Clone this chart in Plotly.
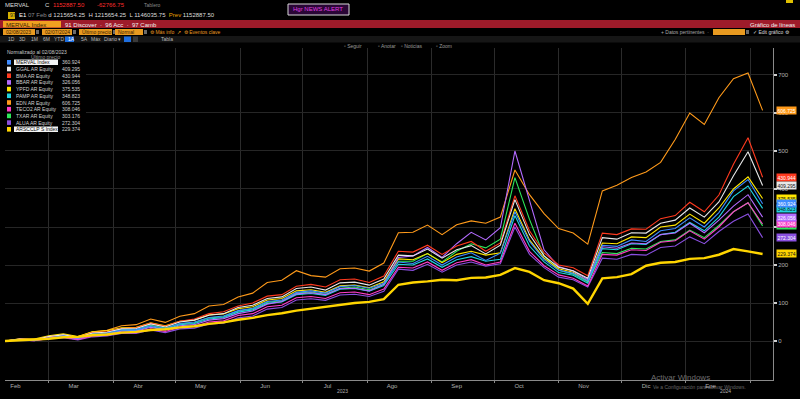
import plotly.graph_objects as go
import pandas as pd

# ---------------- data ----------------
dates = pd.date_range("2023-02-08", periods=53, freq="7D")

names = ["MERVAL Index", "GGAL AR Equity", "BMA AR Equity", "BBAR AR Equity",
         "YPFD AR Equity", "PAMP AR Equity", "EDN AR Equity", "TECO2 AR Equity",
         "TXAR AR Equity", "ALUA AR Equity", "ARSCCLP S Index"]
last_vals = ["360.924", "409.295", "430.944", "326.056", "375.535", "348.823",
             "606.725", "308.046", "303.176", "272.304", "229.374"]
colors = ["#3d8bff", "#e8e8e8", "#ff3a1f", "#b36bff", "#ffe600", "#21d4e0",
          "#ff9a1a", "#ff3cc8", "#2ee85a", "#8a4fe0", "#ffd500"]

merval = [0,4,2,9,14,8,18,21,29,30,40,33,46,50,62,66,80,86,104,108,128,132,126,143,146,139,152,
          208,204,223,200,221,232,212,231,340,262,214,186,178,158,252,249,266,262,290,296,324,300,338,395,425,361]
ggal = [0,5,3,12,16,9,21,23,32,33,45,37,50,55,68,72,88,94,112,116,138,142,134,153,155,147,163,
        226,224,242,218,240,251,229,252,372,280,224,194,185,165,272,268,285,284,310,318,350,326,366,435,498,409]
bma = [0,5,4,11,15,10,22,24,33,35,47,39,52,58,72,77,92,100,118,122,144,149,142,161,163,154,171,
       236,234,252,228,250,262,236,258,382,290,232,200,193,172,284,280,295,294,322,330,365,340,384,465,535,431]
bbar = [0,3,2,9,12,6,16,18,26,26,36,29,40,43,55,59,72,79,97,104,124,127,122,138,139,132,149,
        220,224,246,220,256,286,266,298,500,370,240,196,184,162,248,244,258,256,280,284,310,285,318,355,385,326]
ypfd = [0,6,5,14,19,12,24,27,35,36,48,40,52,55,69,71,85,90,108,112,132,135,128,145,147,140,156,
        216,214,230,206,228,236,226,232,348,266,218,190,181,158,258,256,274,272,300,305,334,310,350,400,432,375]
pamp = [0,4,3,9,13,7,17,19,27,28,38,30,43,46,58,62,76,82,99,103,122,125,120,136,138,131,146,
        202,200,216,194,214,222,210,215,330,250,208,180,173,152,243,240,256,254,280,286,312,290,326,380,408,349]
edn = [0,4,3,12,17,11,24,28,40,43,58,49,65,72,92,96,116,126,154,160,185,172,168,190,192,184,205,
       285,286,305,280,306,316,310,326,450,385,335,296,284,255,395,410,430,445,470,530,600,570,640,690,705,607]
teco2 = [0,3,1,7,10,4,13,15,22,22,32,25,36,38,50,53,67,72,90,94,114,117,112,127,129,122,137,
         194,192,208,186,206,214,200,208,310,236,198,174,165,145,228,226,240,238,260,264,290,268,300,340,364,308]
txar = [0,4,3,10,15,9,20,22,30,31,41,34,45,48,61,64,79,84,102,106,126,129,123,139,142,135,149,
        210,210,230,208,236,256,245,268,430,320,224,186,176,155,233,230,244,242,262,266,292,272,304,340,364,303]
alua = [0,3,1,6,9,3,11,13,20,20,29,22,32,34,45,47,61,66,84,88,108,111,107,121,123,117,131,
        189,186,202,181,200,208,197,203,300,228,193,168,161,142,218,215,228,226,246,250,274,256,288,315,334,272]
ars_idx = [0,2,4,6,10,11,15,17,22,24,29,31,36,39,45,49,56,61,68,73,80,85,90,94,100,103,110,
           148,154,157,161,160,166,167,174,192,182,160,152,138,98,165,168,176,198,206,208,216,218,227,242,236,229]

series = [merval, ggal, bma, bbar, ypfd, pamp, edn, teco2, txar, alua, ars_idx]

month_labels = ["Feb", "Mar", "Abr", "May", "Jun", "Jul", "Ago", "Sep", "Oct", "Nov", "Dic", "Ene"]
month_label_dates = [pd.Timestamp(d.year, d.month, 13) for d in pd.date_range("2023-02-01", periods=12, freq="MS")]
month_starts = list(pd.date_range("2023-03-01", periods=12, freq="MS"))
y_ticks = [0, 100, 200, 300, 400, 500, 600, 700]

# ---------------- figure ----------------
fig = go.Figure()
order = [6, 9, 8, 7, 5, 4, 3, 2, 1, 0, 10]
for k in order:
    fig.add_trace(go.Scatter(
        x=dates, y=series[k], mode="lines", name=names[k],
        line=dict(color=colors[k], width=2.4 if k == 10 else 1.1),
        showlegend=False, hoverinfo="skip"))

FONT = "Liberation Sans, Arial, sans-serif"
fig.update_layout(
    width=800, height=399,
    margin=dict(l=5, r=27, t=48, b=19),
    paper_bgcolor="black", plot_bgcolor="black",
    showlegend=False,
    font=dict(family=FONT, size=6, color="#bbbbbb"),
)
fig.update_xaxes(
    range=["2023-02-08", "2024-02-12"],
    tickvals=month_label_dates, ticktext=month_labels,
    showgrid=False, showline=True, linecolor="#8a8a8a", linewidth=1,
    ticks="", tickfont=dict(size=6, color="#b0b0b0"), zeroline=False,
    minor=dict(tickvals=month_starts, showgrid=True, gridcolor="#2b2b2b",
               ticks="outside", ticklen=2, tickcolor="#8a8a8a"),
)
fig.update_yaxes(
    side="right", range=[-102.6, 771], tickvals=y_ticks,
    showgrid=True, gridcolor="#262626", gridwidth=1,
    showline=True, linecolor="#8a8a8a", linewidth=1,
    ticks="outside", ticklen=3, tickwidth=2, tickcolor="#cfcfcf",
    tickfont=dict(size=6, color="#b0b0b0"), zeroline=False,
)

def PX(x):
    return (x - 5) / 768.0

def PY(y):
    return (380 - y) / 332.0

def text(x, y, s, color="#c8c8c8", size=6, anchor="left", bg=None):
    fig.add_annotation(x=PX(x), y=PY(y), xref="paper", yref="paper", text=s,
                       showarrow=False, xanchor=anchor, yanchor="middle",
                       font=dict(color=color, size=size, family=FONT),
                       bgcolor=bg, borderpad=0)

def rect(x0, y0, x1, y1, fill, line=None):
    fig.add_shape(type="rect", xref="paper", yref="paper",
                  x0=PX(x0), x1=PX(x1), y0=PY(y1), y1=PY(y0),
                  fillcolor=fill, layer="above",
                  line=dict(color=line if line else fill, width=1 if line else 0))

# ---- header ----
rect(0, 0, 800, 20, "#000000")
text(4, 5, "MERVAL", "#dddddd")
text(44, 5, "C", "#dddddd")
text(52, 5, "1152887.50", "#ff2d2d")
text(96, 5, "-62766.75", "#ff2d2d")
text(143, 5, "Tablero", "#8a8a8a", size=5)
rect(288, 4, 349, 15, "#2a0636", "#d8d8d8")
text(292, 9.5, "Hgr NEWS ALERT", "#e040e0")
rect(786, 0, 793, 3, "#e0c000")

rect(8, 12, 15, 19, "#d4b000")
text(9, 15.5, "97", "#222222", size=5)
text(18, 15.5,
     "<span style='color:#ffffff'>E1</span> <span style='color:#8a8a8a'>07 Feb</span> "
     "d 1215654.25  H 1215654.25  L 1146035.75  <span style='color:#e8a000'>Prev</span> 1152887.50",
     "#dcdcdc")

rect(0, 20, 800, 28, "#9e1b2a")
rect(3, 21, 61, 27.5, "#f0a020")
text(5, 24.5, "MERVAL Index", "#3a2000")
text(64, 24.5, "91 Discover  ·  96 Acc  ·  97 Camb", "#f0f0f0")
text(796, 24.5, "Gráfico de líneas", "#f0f0f0", anchor="right")

rect(0, 28, 800, 36, "#000000")
for (a, b, s) in [(3, 35, "02/08/2023"), (42, 72, "02/07/2024"),
                  (79, 112, "Último precio"), (115, 143, "Normal")]:
    rect(a, 29, b, 35, "#e89a20")
    text(a + 2, 32, s, "#3a2000", size=5)
    rect(b + 1, 30, b + 4, 34, "#6a6a6a")
text(149, 32, "⚙ Más info  ↗  ⚙ Eventos clave", "#e89a20", size=5)
text(710, 32, "+ Datos pertinentes  ·", "#a8a8a8", size=5, anchor="right")
rect(713, 29, 745, 35, "#e89a20")
rect(746, 30, 749, 34, "#6a6a6a")
text(752, 32, "✓ Edit gráfico ⚙", "#d8d8d8", size=5)

rect(0, 36, 800, 42.5, "#161616")
for (xx, s) in [(7, "1D"), (18, "3D"), (30, "1M"), (42, "6M"), (53, "YTD"),
                (80, "5A"), (90, "Máx"), (103, "Diario ▾"), (160, "Tabla")]:
    text(xx, 39.2, s, "#b8b8b8", size=5)
rect(65, 36.5, 74, 42, "#1f6fe0")
text(66.5, 39.2, "1A", "#ffffff", size=5)
rect(124, 36.5, 131, 42, "#1f6fe0")
rect(133, 36.5, 138, 42, "#3a3a3a")

for (xx, s) in [(343, "▫ Seguir"), (377, "▫ Anotar"), (400, "▫ Noticias"), (435, "▫ Zoom")]:
    text(xx, 46, s, "#9a9a9a", size=5)

# ---- legend box ----
rect(3, 48, 86, 133, "#000000")
text(6, 51.5, "Normalizado al 02/08/2023", "#c8c8c8", size=5)
text(30, 57, "Último precio", "#9a9a9a", size=5)
for k in range(11):
    yy = 62.3 + 6.7 * k
    rect(7, yy - 2.3, 11, yy + 2.3, colors[k])
    if k in (0, 10):
        rect(14, yy - 2.8, 58, yy + 2.8, "#f4f4f4")
        text(15, yy, names[k], "#111111", size=5)
    else:
        text(15, yy, names[k], "#d0d0d0", size=5)
    text(61, yy, last_vals[k], "#d0d0d0", size=5)

# ---- right-axis value tags ----
tag_text_col = ["#ffffff", "#111111", "#ffffff", "#ffffff", "#111111", "#111111",
                "#ffffff", "#ffffff", "#111111", "#ffffff", "#111111"]
for k in order:
    fig.add_annotation(x=PX(776), y=float(last_vals[k]), xref="paper", yref="y",
                       text=last_vals[k], showarrow=False, xanchor="left", yanchor="middle",
                       font=dict(color=tag_text_col[k], size=5, family=FONT),
                       bgcolor=colors[k], borderpad=0.5)

# ---- year labels ----
fig.add_annotation(x="2023-07-20", y=PY(391), xref="x", yref="paper", text="2023",
                   showarrow=False, font=dict(size=5, color="#b0b0b0"), yanchor="middle")
fig.add_annotation(x="2024-01-20", y=PY(391), xref="x", yref="paper", text="2024",
                   showarrow=False, font=dict(size=5, color="#b0b0b0"), yanchor="middle")

# ---- watermark ----
text(650, 377.5, "Activar Windows", "rgba(200,200,200,0.55)", size=8)
text(652, 387, "Ve a Configuración para activar Windows.", "rgba(200,200,200,0.5)", size=5)

fig.write_html("out.html", config={"displayModeBar": False},
               post_script="document.body.style.margin='0';document.body.style.overflow='hidden';")
